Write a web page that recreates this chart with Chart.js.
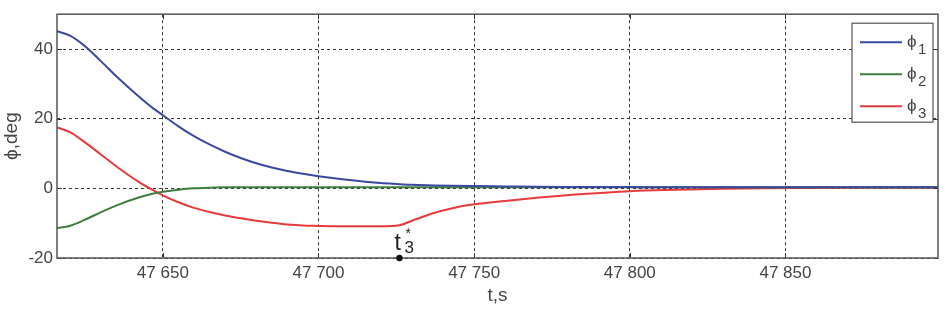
<!DOCTYPE html>
<html>
<head>
<meta charset="utf-8">
<script src="https://cdn.jsdelivr.net/npm/chart.js@4.4.1/dist/chart.umd.min.js"></script>
<style>
  html, body { margin: 0; padding: 0; background: #fff; }
  #wrap { width: 945px; height: 309px; }
</style>
</head>
<body>
<div id="wrap"><canvas id="phiChart" width="945" height="309"></canvas></div>
<script>
// ==============================================================================
// 1. DATA
// ==============================================================================
const timeS = [47616, 47620, 47625, 47630, 47636, 47642, 47647, 47650, 47655, 47660,
               47665, 47670, 47675, 47680, 47685, 47690, 47695, 47700, 47705, 47710,
               47715, 47720, 47726, 47730, 47737, 47743, 47750, 47760, 47770, 47785,
               47800, 47815, 47830, 47850, 47875, 47899];

const phi1 = [45.1, 43.9, 40.8, 36.6, 31.4, 26.6, 22.9, 21.0, 17.8, 15.0,
              12.6, 10.5, 8.7, 7.2, 6.0, 5.0, 4.2, 3.5, 2.9, 2.4,
              1.9, 1.5, 1.2, 1.0, 0.85, 0.75, 0.65, 0.55, 0.45, 0.4,
              0.35, 0.3, 0.3, 0.3, 0.3, 0.3];

const phi2 = [-11.4, -10.8, -9.0, -6.9, -4.6, -2.7, -1.5, -1.0, -0.4, 0.0,
              0.2, 0.3, 0.3, 0.3, 0.3, 0.3, 0.3, 0.3, 0.3, 0.3,
              0.3, 0.3, 0.3, 0.3, 0.3, 0.3, 0.3, 0.3, 0.3, 0.3,
              0.3, 0.3, 0.3, 0.3, 0.3, 0.3];

const phi3 = [17.5, 16.2, 13.2, 9.8, 5.7, 2.0, -0.6, -2.0, -4.0, -5.6,
              -6.8, -7.8, -8.6, -9.3, -9.9, -10.4, -10.7, -10.8, -10.9, -10.9,
              -10.9, -10.9, -10.6, -9.3, -7.1, -5.7, -4.6, -3.6, -2.7, -1.6,
              -0.8, -0.4, -0.1, 0.1, 0.2, 0.2];

const xTicks = [47650, 47700, 47750, 47800, 47850];
const yTicks = [-20, 0, 20, 40];
const seriesNames = ['1', '2', '3'];           // subscripts of phi
const seriesColors = ['#3a48a2', '#3e7d3e', '#e63a3c'];
const markerT = 47726;                          // t3* point on the time axis

// ==============================================================================
// 2. HELPERS
// ==============================================================================
function toPoints(ys) {
    return timeS.map((t, i) => ({ x: t, y: ys[i] }));
}

function fmtTime(v) {
    const s = String(Math.round(v));
    return s.slice(0, 2) + ' ' + s.slice(2);
}

const TEXT = '#444';
const FONT = 'Arial, "Liberation Sans", sans-serif';
const PHI = '\u03d5';

// frame, inner ticks, legend and the t3* annotation
const framePlugin = {
    id: 'framePlugin',
    afterDatasetsDraw(chart) {
        const { ctx, chartArea: a, scales } = chart;
        ctx.save();
        // inner tick marks (MATLAB style)
        ctx.strokeStyle = '#333';
        ctx.lineWidth = 1;
        ctx.setLineDash([]);
        ctx.beginPath();
        xTicks.forEach(v => {
            const px = Math.round(scales.x.getPixelForValue(v)) + 0.5;
            ctx.moveTo(px, a.bottom); ctx.lineTo(px, a.bottom - 5);
            ctx.moveTo(px, a.top); ctx.lineTo(px, a.top + 5);
        });
        yTicks.forEach(v => {
            const py = Math.round(scales.y.getPixelForValue(v)) + 0.5;
            ctx.moveTo(a.left, py); ctx.lineTo(a.left + 5, py);
            ctx.moveTo(a.right, py); ctx.lineTo(a.right - 5, py);
        });
        ctx.stroke();

        // plot frame
        ctx.strokeStyle = '#555';
        ctx.lineWidth = 1.5;
        ctx.strokeRect(a.left, a.top, a.right - a.left, a.bottom - a.top);

        // legend box
        const lw = 81, lh = 99;
        const lx = a.right - 5 - lw, ly = a.top + 9;
        ctx.fillStyle = '#fff';
        ctx.fillRect(lx, ly, lw, lh);
        ctx.strokeStyle = '#555';
        ctx.lineWidth = 1.2;
        ctx.strokeRect(lx, ly, lw, lh);
        seriesNames.forEach((n, i) => {
            const yy = ly + 19 + i * 32;
            ctx.strokeStyle = seriesColors[i];
            ctx.lineWidth = 2;
            ctx.beginPath();
            ctx.moveTo(lx + 8, yy); ctx.lineTo(lx + 50, yy);
            ctx.stroke();
            ctx.fillStyle = TEXT;
            ctx.textBaseline = 'middle';
            ctx.textAlign = 'left';
            ctx.font = '17px ' + FONT;
            ctx.fillText(PHI, lx + 55, yy);
            ctx.font = '15px ' + FONT;
            ctx.fillText(n, lx + 66, yy + 8);
        });

        // t3* marker
        const mx = scales.x.getPixelForValue(markerT);
        const my = a.bottom;
        ctx.fillStyle = '#111';
        ctx.beginPath();
        ctx.arc(mx, my, 3.2, 0, Math.PI * 2);
        ctx.fill();
        ctx.fillStyle = '#222';
        ctx.textAlign = 'left';
        ctx.textBaseline = 'alphabetic';
        ctx.font = '23px ' + FONT;
        ctx.fillText('t', mx - 5, my - 8);
        ctx.font = '17px ' + FONT;
        ctx.fillText('3', mx + 5, my - 5);
        ctx.font = '14px ' + FONT;
        ctx.fillText('*', mx + 6, my - 20);
        ctx.restore();
    }
};

// ==============================================================================
// 3. CHART
// ==============================================================================
const ctx = document.getElementById('phiChart').getContext('2d');
const datasets = [phi1, phi2, phi3].map((ys, i) => ({
    label: PHI + seriesNames[i],
    data: toPoints(ys),
    borderColor: seriesColors[i],
    borderWidth: 2,
    pointRadius: 0,
    fill: false,
    cubicInterpolationMode: 'monotone'
}));

new Chart(ctx, {
    type: 'line',
    data: { datasets: datasets },
    options: {
        responsive: false,
        animation: false,
        events: [],
        layout: { padding: { top: 3, right: 7, left: 0, bottom: 0 } },
        plugins: { legend: { display: false }, tooltip: { enabled: false } },
        scales: {
            x: {
                type: 'linear',
                min: 47616,
                max: 47899,
                afterBuildTicks: s => { s.ticks = xTicks.map(v => ({ value: v })); },
                afterFit: s => { s.height = 51; },
                border: { display: false, dash: [3, 3] },
                grid: { color: '#333', lineWidth: 1, drawTicks: false },
                ticks: {
                    color: TEXT, font: { family: FONT, size: 17 }, padding: 5,
                    maxRotation: 0, callback: v => fmtTime(v)
                },
                title: {
                    display: true, text: 't,s', color: TEXT,
                    font: { family: FONT, size: 19 }, padding: { top: 1, bottom: 2 }
                }
            },
            y: {
                min: -20,
                max: 50,
                afterBuildTicks: s => { s.ticks = yTicks.map(v => ({ value: v })); },
                afterFit: s => { s.width = 57; },
                border: { display: false, dash: [3, 3] },
                grid: { color: '#333', lineWidth: 1, drawTicks: false },
                ticks: { color: TEXT, font: { family: FONT, size: 17 }, padding: 4 },
                title: {
                    display: true, text: PHI + ',deg', color: TEXT,
                    font: { family: FONT, size: 19 }, padding: { top: 0, bottom: 2 }
                }
            }
        }
    },
    plugins: [framePlugin]
});
</script>
</body>
</html>
